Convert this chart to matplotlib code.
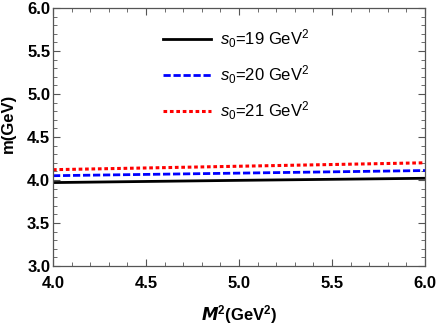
import matplotlib.pyplot as plt
from matplotlib.ticker import MultipleLocator

# valores
M2 = [4.0, 4.5, 5.0, 5.5, 6.0]
m_s19 = [3.97, 3.983, 3.996, 4.008, 4.02]
m_s20 = [4.05, 4.065, 4.08, 4.095, 4.11]
m_s21 = [4.12, 4.14, 4.16, 4.18, 4.20]
labels = [r'$s_0$=19 GeV$^2$', r'$s_0$=20 GeV$^2$', r'$s_0$=21 GeV$^2$']

plt.rcParams['font.family'] = ['Liberation Sans', 'DejaVu Sans']
plt.rcParams['mathtext.fontset'] = 'custom'
plt.rcParams['mathtext.rm'] = 'Liberation Sans'
plt.rcParams['mathtext.it'] = 'Liberation Sans:italic'
plt.rcParams['mathtext.bf'] = 'Liberation Sans:bold'

fig = plt.figure(figsize=(4.36, 3.27), dpi=100)
ax = fig.add_axes([53/436, 61/327, 372/436, 258/327])

ax.plot(M2, m_s19, color='black', lw=2, label=labels[0])
ax.plot(M2, m_s20, color='#0000ff', lw=2, ls=(0, (2.6, 1.0)), label=labels[1])
ax.plot(M2, m_s21, color='#ff0000', lw=2.2, ls=(0, (1.2, 0.9)), label=labels[2])

ax.set_xlim(4.0, 6.0)
ax.set_ylim(3.0, 6.0)
ax.xaxis.set_major_locator(MultipleLocator(0.5))
ax.xaxis.set_minor_locator(MultipleLocator(0.1))
ax.yaxis.set_major_locator(MultipleLocator(0.5))
ax.yaxis.set_minor_locator(MultipleLocator(0.1))
ax.tick_params(which='both', direction='in', top=True, right=True,
               labeltop=False, labelright=False, color='#555555')
ax.tick_params(which='major', length=5, width=0.8, labelsize=12)
ax.tick_params(axis='x', which='major', pad=7)
ax.tick_params(axis='y', which='major', pad=2)
ax.tick_params(which='minor', length=3, width=0.6)
for lab in ax.get_xticklabels() + ax.get_yticklabels():
    lab.set_fontweight('bold')
for s in ax.spines.values():
    s.set_color('#555555')
    s.set_linewidth(0.9)

ax.set_xlabel(r'$\mathbfit{M}^{\mathbf{2}}$(GeV$^{\mathbf{2}}$)', fontsize=12, fontweight='bold')
ax.set_ylabel('m(GeV)', fontsize=12, fontweight='bold')
ax.xaxis.set_label_coords(0.5, -0.145)
ax.yaxis.set_label_coords(-0.10, 0.554)

ax.legend(loc='upper left', bbox_to_anchor=(0.296, 0.923), frameon=False,
          fontsize=12, handlelength=2.9, handletextpad=0.5, labelspacing=0.8,
          borderpad=0, borderaxespad=0)

plt.savefig('out.png')
